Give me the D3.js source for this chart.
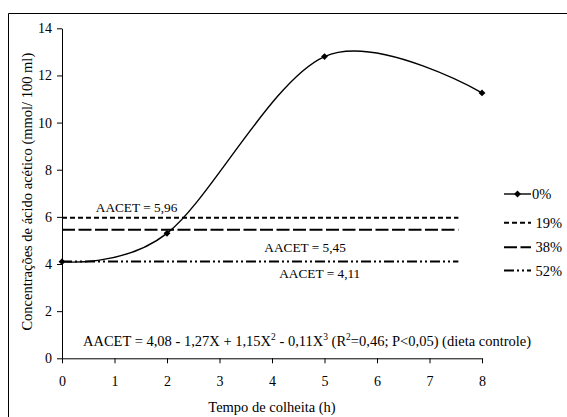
<!DOCTYPE html>
<html>
<head>
<meta charset="utf-8">
<script src="https://cdn.jsdelivr.net/npm/d3@7"></script>
<style>
  html, body { margin: 0; padding: 0; background: #fff; }
  svg { display: block; }
</style>
</head>
<body>
<svg id="chart" width="567" height="417"></svg>
<script>
// Harvest times (h) and acetic acid concentration for the control diet (0%)
const horas = [0, 2, 5, 8];
const controle = [4.10, 5.30, 12.80, 11.26];

// Mean concentration (AACET) for the other inclusion levels
const niveis = ["19%", "38%", "52%"];
const medias = [5.96, 5.45, 4.11];
const mediaExtent = [0, 7.55];

const legendLabels = ["0%", "19%", "38%", "52%"];
const xTicks = [0, 1, 2, 3, 4, 5, 6, 7, 8];
const yTicks = [0, 2, 4, 6, 8, 10, 12, 14];

const FONT = "'Liberation Serif', 'Times New Roman', Tinos, serif";

const svg = d3.select("#chart")
  .attr("font-family", FONT);

// Outer chart-area frame (top and left edges)
svg.append("path")
  .attr("d", "M8.5,417V13.5H567")
  .attr("fill", "none")
  .attr("stroke", "#000")
  .attr("stroke-width", 1);

const x = d3.scaleLinear().domain([0, 8]).range([62, 482]);
const y = d3.scaleLinear().domain([0, 14]).range([358.3, 28.3]);

// Axes
const xAxis = svg.append("g")
  .attr("transform", `translate(0,${y(0)})`)
  .call(d3.axisBottom(x).tickValues(xTicks).tickSize(5).tickSizeOuter(0).tickPadding(13));
const yAxis = svg.append("g")
  .attr("transform", `translate(${x(0)},0)`)
  .call(d3.axisLeft(y).tickValues(yTicks).tickSize(5).tickSizeOuter(0).tickPadding(5));

[xAxis, yAxis].forEach(g => {
  g.attr("font-family", FONT).attr("font-size", 14);
  g.selectAll("path, line").attr("stroke", "#000").attr("stroke-width", 1);
  g.selectAll("text").attr("fill", "#000");
});

// Axis titles
svg.append("text")
  .attr("x", (x(0) + x(8)) / 2)
  .attr("y", 411.5)
  .attr("text-anchor", "middle")
  .attr("font-size", 14.5)
  .text("Tempo de colheita (h)");

svg.append("text")
  .attr("transform", `translate(31.5,191.7) rotate(-90)`)
  .attr("text-anchor", "middle")
  .attr("font-size", 14.5)
  .text("Concentrações de ácido acético (mmol/ 100 ml)");

// Mean lines for each level
const estilos = [
  { dash: "5,3" },
  { dash: "13,3.5" },
  { dash: "10,3,2,3,2,3" }
];
const meanGroup = svg.append("g");
medias.forEach((m, i) => {
  meanGroup.append("line")
    .attr("x1", x(mediaExtent[0]))
    .attr("x2", x(mediaExtent[1]))
    .attr("y1", y(m))
    .attr("y2", y(m))
    .attr("stroke", "#000")
    .attr("stroke-width", 2)
    .attr("stroke-dasharray", estilos[i].dash);
});

// Control-diet curve (smoothed) with diamond markers
const pontos = horas.map((h, i) => [h, controle[i]]);
const linha = d3.line()
  .x(d => x(d[0]))
  .y(d => y(d[1]))
  .curve(d3.curveCardinal.tension(0));

svg.append("path")
  .datum(pontos)
  .attr("d", linha)
  .attr("fill", "none")
  .attr("stroke", "#000")
  .attr("stroke-width", 1.4);

const diamond = d3.symbol().type(d3.symbolDiamond2).size(30);
svg.selectAll(".marker")
  .data(pontos)
  .join("path")
  .attr("class", "marker")
  .attr("d", diamond)
  .attr("transform", d => `translate(${x(d[0])},${y(d[1])})`)
  .attr("fill", "#000");

// Mean value annotations
const fmt = v => "AACET = " + v.toFixed(2).replace(".", ",");
const annot = [
  { v: medias[0], cx: 1.42, dy: -6 },
  { v: medias[1], cx: 4.63, dy: 22 },
  { v: medias[2], cx: 4.91, dy: 17 }
];
annot.forEach(a => {
  svg.append("text")
    .attr("x", x(a.cx))
    .attr("y", y(a.v) + a.dy)
    .attr("text-anchor", "middle")
    .attr("font-size", 13.3)
    .text(fmt(a.v));
});

// Regression equation for the control diet
const eq = svg.append("text")
  .attr("x", 83)
  .attr("y", 346)
  .attr("font-size", 14.5);
const parts = [
  ["AACET = 4,08 - 1,27X + 1,15X", false],
  ["2", true],
  [" - 0,11X", false],
  ["3", true],
  [" (R", false],
  ["2", true],
  ["=0,46; P<0,05) (dieta controle)", false]
];
let up = false;
parts.forEach(([t, sup]) => {
  const ts = eq.append("tspan").text(t);
  if (sup) {
    ts.attr("font-size", 9.5).attr("dy", -6);
    up = true;
  } else if (up) {
    ts.attr("dy", 6);
    up = false;
  }
});

// Legend
const legY = [194, 222.7, 247.3, 270.5];
const leg = svg.append("g");
legendLabels.forEach((lab, i) => {
  const g = leg.append("g");
  g.append("line")
    .attr("x1", 504).attr("x2", 531)
    .attr("y1", legY[i]).attr("y2", legY[i])
    .attr("stroke", "#000")
    .attr("stroke-width", i === 0 ? 1.4 : 2)
    .attr("stroke-dasharray", i === 0 ? null : estilos[i - 1].dash);
  if (i === 0) {
    g.append("path")
      .attr("d", diamond)
      .attr("transform", `translate(517.5,${legY[i]})`)
      .attr("fill", "#000");
  }
  g.append("text")
    .attr("x", i === 0 ? 532 : 535.5)
    .attr("y", legY[i] + 5)
    .attr("font-size", 14.5)
    .text(lab);
});
</script>
</body>
</html>
